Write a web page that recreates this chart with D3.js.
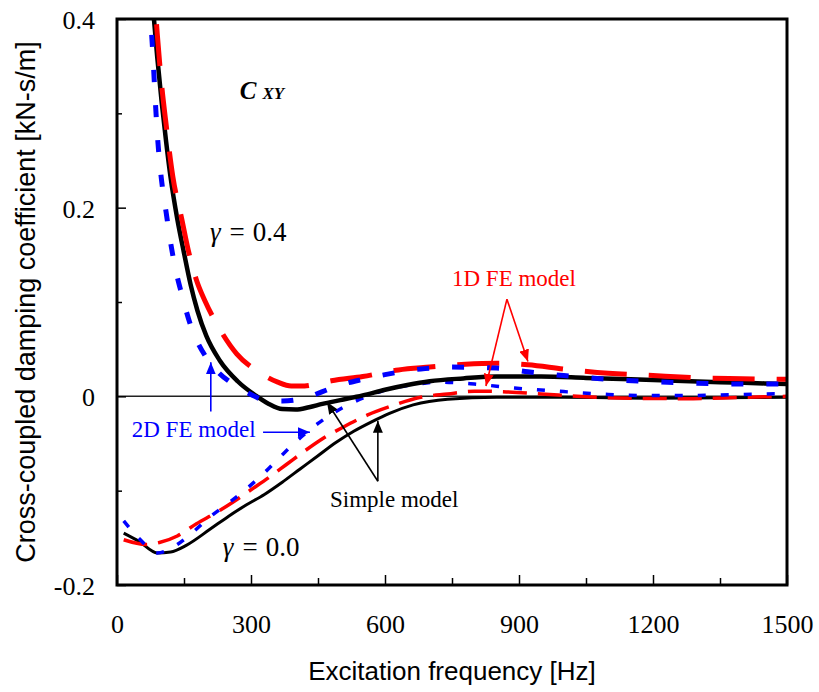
<!DOCTYPE html>
<html>
<head>
<meta charset="utf-8">
<script src="https://cdn.jsdelivr.net/npm/d3@7"></script>
<style>
  body { margin: 0; background: #fff; }
</style>
</head>
<body>
<div id="vis"></div>
<script>
// axis ticks
const xTicks = [0, 300, 600, 900, 1200, 1500];
const xMinor = [150, 450, 750, 1050, 1350];
const yTicks = [-0.2, 0, 0.2, 0.4];
const yMinor = [-0.1, 0.1, 0.3];

// [frequency Hz, Cxy kN-s/m]
// gamma = 0.4
const simple04 = [[70, 0.48], [80, 0.415], [90, 0.36], [100, 0.312], [110, 0.27], [120, 0.232], [135, 0.188],
  [150, 0.152], [165, 0.118], [180, 0.091], [200, 0.064], [230, 0.038], [270, 0.016], [310, 0.001], [340, -0.008],
  [370, -0.0135], [400, -0.014], [430, -0.0115], [460, -0.008], [500, -0.004], [550, 0.001], [600, 0.007],
  [650, 0.012], [700, 0.016], [775, 0.019], [850, 0.021], [950, 0.021], [1050, 0.0195], [1150, 0.018],
  [1250, 0.0165], [1350, 0.015], [1450, 0.0137], [1500, 0.013]];
const fe1d04 = [[70, 0.53], [80, 0.455], [90, 0.385], [100, 0.33], [110, 0.288], [125, 0.233], [145, 0.188],
  [160, 0.154], [178, 0.123], [197, 0.101], [223, 0.077], [268, 0.045], [320, 0.025], [360, 0.015], [390, 0.011],
  [420, 0.011], [450, 0.0135], [480, 0.0165], [550, 0.021], [630, 0.028], [700, 0.031], [780, 0.034], [850, 0.035],
  [920, 0.0335], [1000, 0.029], [1100, 0.0245], [1200, 0.022], [1300, 0.0197], [1400, 0.0187], [1500, 0.018]];
const fe2d04 = [[72, 0.42], [80, 0.365], [85, 0.32], [90, 0.28], [95, 0.25], [100, 0.228], [110, 0.195],
  [120, 0.163], [130, 0.137], [145, 0.108], [165, 0.075], [200, 0.041], [230, 0.024], [260, 0.013], [300, 0.002],
  [330, -0.004], [370, -0.005], [420, -0.002], [460, 0.005], [500, 0.012], [550, 0.018], [600, 0.023], [680, 0.029],
  [750, 0.031], [850, 0.030], [920, 0.026], [1000, 0.022], [1100, 0.018], [1200, 0.0155], [1300, 0.0138],
  [1400, 0.013], [1500, 0.013]];
// gamma = 0.0
const simple00 = [[15, -0.145], [50, -0.154], [90, -0.166], [120, -0.165], [155, -0.158], [208, -0.141],
  [250, -0.127], [290, -0.115], [330, -0.104], [370, -0.091], [410, -0.077], [450, -0.063], [490, -0.049],
  [530, -0.037], [570, -0.027], [610, -0.018], [663, -0.009], [740, -0.003], [850, -0.001], [1000, -0.001],
  [1200, -0.002], [1350, -0.0015], [1500, -0.001]];
const fe1d00 = [[15, -0.152], [65, -0.157], [95, -0.155], [135, -0.148], [178, -0.135], [223, -0.123],
  [260, -0.112], [300, -0.099], [340, -0.086], [380, -0.072], [420, -0.058], [460, -0.045], [505, -0.033],
  [560, -0.02], [610, -0.011], [680, -0.001], [740, 0.0025], [800, 0.0055], [860, 0.005], [950, 0.0025],
  [1050, -0.0005], [1150, -0.002], [1290, -0.0025], [1400, -0.001], [1500, 0]];
const fe2d00 = [[15, -0.132], [50, -0.151], [90, -0.166], [135, -0.157], [170, -0.144], [208, -0.128],
  [250, -0.113], [290, -0.098], [330, -0.081], [372, -0.061], [415, -0.042], [455, -0.027], [505, -0.012],
  [560, 0], [610, 0.008], [660, 0.012], [720, 0.015], [800, 0.013], [890, 0.0088], [1000, 0.005], [1100, 0.002],
  [1200, 0.0008], [1300, 0.001], [1400, 0.002], [1500, 0.003]];

const serif = '"Liberation Serif", "Times New Roman", serif';
const sans = '"Liberation Sans", Arial, sans-serif';

const svg = d3.select("#vis").append("svg")
  .attr("width", 819).attr("height", 692);

const x = d3.scaleLinear().domain([0, 1500]).range([117, 787]);
const y = d3.scaleLinear().domain([-0.2, 0.4]).range([585, 19]);

svg.append("clipPath").attr("id", "plot")
  .append("rect")
  .attr("x", x(0)).attr("y", y(0.4))
  .attr("width", x(1500) - x(0)).attr("height", y(-0.2) - y(0.4));

// zero line
svg.append("line")
  .attr("x1", x(0)).attr("x2", x(1500))
  .attr("y1", y(0)).attr("y2", y(0))
  .attr("stroke", "#222").attr("stroke-width", 1.5);

const line = d3.line()
  .x(d => x(d[0]))
  .y(d => y(d[1]))
  .curve(d3.curveMonotoneX);

// drawn in this order so the 2D FE dashes sit on top, like the original
const series = [
  { data: simple00, color: "#000", width: 3, dash: null },
  { data: fe1d00, color: "#ff0000", width: 3.5, dash: "24,11" },
  { data: fe2d00, color: "#0000ff", width: 3.5, dash: "8,15" },
  { data: simple04, color: "#000", width: 4.5, dash: null },
  { data: fe1d04, color: "#ff0000", width: 5, dash: "42,22" },
  { data: fe2d04, color: "#0000ff", width: 5, dash: "12,23" }
];

svg.append("g").attr("clip-path", "url(#plot)")
  .selectAll("path")
  .data(series)
  .join("path")
  .attr("d", d => line(d.data))
  .attr("fill", "none")
  .attr("stroke", d => d.color)
  .attr("stroke-width", d => d.width)
  .attr("stroke-dasharray", d => d.dash);

// axes (ticks point inward)
const xAxis = svg.append("g").attr("transform", `translate(0,${y(-0.2)})`)
  .call(d3.axisBottom(x).tickValues(xTicks).tickSize(-10).tickFormat(d3.format("d")));
svg.append("g").attr("transform", `translate(0,${y(-0.2)})`)
  .call(d3.axisBottom(x).tickValues(xMinor).tickSize(-7).tickFormat(""));
const yAxis = svg.append("g").attr("transform", `translate(${x(0)},0)`)
  .call(d3.axisLeft(y).tickValues(yTicks).tickSize(-9)
    .tickFormat(d => d === 0 ? "0" : d.toFixed(1)));
svg.append("g").attr("transform", `translate(${x(0)},0)`)
  .call(d3.axisLeft(y).tickValues(yMinor).tickSize(-5).tickFormat(""));

svg.selectAll(".domain").remove();
svg.selectAll(".tick line").attr("stroke", "#000").attr("stroke-width", 1.5);

xAxis.attr("font-family", serif).attr("font-size", 26);
yAxis.attr("font-family", serif).attr("font-size", 26);
xAxis.selectAll("text")
  .attr("y", 48).attr("dy", null)
  .style("font-family", serif).style("font-size", "26px").attr("fill", "#000");
yAxis.selectAll("text")
  .attr("x", -22).attr("dy", "0.36em")
  .style("font-family", serif).style("font-size", "26px").attr("fill", "#000");

// frame
svg.append("rect")
  .attr("x", x(0)).attr("y", y(0.4))
  .attr("width", x(1500) - x(0)).attr("height", y(-0.2) - y(0.4))
  .attr("fill", "none").attr("stroke", "#000").attr("stroke-width", 3);

// axis titles
svg.append("text")
  .attr("x", (x(0) + x(1500)) / 2).attr("y", 680)
  .attr("text-anchor", "middle")
  .style("font-family", sans).style("font-size", "26px")
  .text("Excitation frequency [Hz]");

svg.append("text")
  .attr("transform", `translate(35,${(y(0.4) + y(-0.2)) / 2}) rotate(-90)`)
  .attr("text-anchor", "middle")
  .style("font-family", sans).style("font-size", "27px")
  .text("Cross-coupled damping coefficient [kN-s/m]");

// C_XY label
const cxy = svg.append("text")
  .attr("x", x(275)).attr("y", y(0.315))
  .style("font-family", serif).style("font-weight", "bold").style("font-style", "italic");
cxy.append("tspan").style("font-size", "25px").text("C");
cxy.append("tspan").attr("dx", 6).style("font-size", "17px").text("XY");

// gamma labels
function gammaLabel(f, v, val) {
  const t = svg.append("text")
    .attr("x", x(f)).attr("y", y(v))
    .style("font-family", serif).style("font-size", "27px");
  t.append("tspan").style("font-style", "italic").text("\u03b3");
  t.append("tspan").attr("dx", 9).text("=");
  t.append("tspan").attr("dx", 8).text(val);
}
gammaLabel(208, 0.165, "0.4");
gammaLabel(237, -0.169, "0.0");

// model labels and arrows
const colors = { red: "#ff0000", blue: "#0000ff", black: "#000" };
const defs = svg.append("defs");
Object.entries(colors).forEach(([k, c]) => {
  defs.append("marker")
    .attr("id", "head-" + k)
    .attr("viewBox", "0 -5 12 10")
    .attr("refX", 12).attr("refY", 0)
    .attr("markerUnits", "userSpaceOnUse")
    .attr("markerWidth", 12).attr("markerHeight", 10)
    .attr("orient", "auto")
    .append("path").attr("d", "M0,-5L12,0L0,5Z").attr("fill", c);
});

const labels = [
  { text: "1D FE model", f: 750, v: 0.117, color: "red" },
  { text: "2D FE model", f: 33, v: -0.043, color: "blue" },
  { text: "Simple model", f: 477, v: -0.117, color: "black" }
];
svg.selectAll(".model")
  .data(labels)
  .join("text")
  .attr("x", d => x(d.f)).attr("y", d => y(d.v))
  .attr("fill", d => colors[d.color])
  .style("font-family", serif).style("font-size", "23px")
  .text(d => d.text);

// arrows: [from f, from v, to f, to v]
const arrows = [
  { p: [873, 0.103, 826, 0.011], color: "red" },
  { p: [873, 0.103, 920, 0.037], color: "red" },
  { p: [327, -0.038, 432, -0.038], color: "blue" },
  { p: [210, -0.016, 210, 0.036], color: "blue" },
  { p: [584, -0.09, 470, -0.006], color: "black" },
  { p: [584, -0.09, 584, -0.026], color: "black" }
];
svg.selectAll(".arrow")
  .data(arrows)
  .join("line")
  .attr("x1", d => x(d.p[0])).attr("y1", d => y(d.p[1]))
  .attr("x2", d => x(d.p[2])).attr("y2", d => y(d.p[3]))
  .attr("stroke", d => colors[d.color])
  .attr("stroke-width", 1.6)
  .attr("marker-end", d => `url(#head-${d.color})`);
</script>
</body>
</html>
